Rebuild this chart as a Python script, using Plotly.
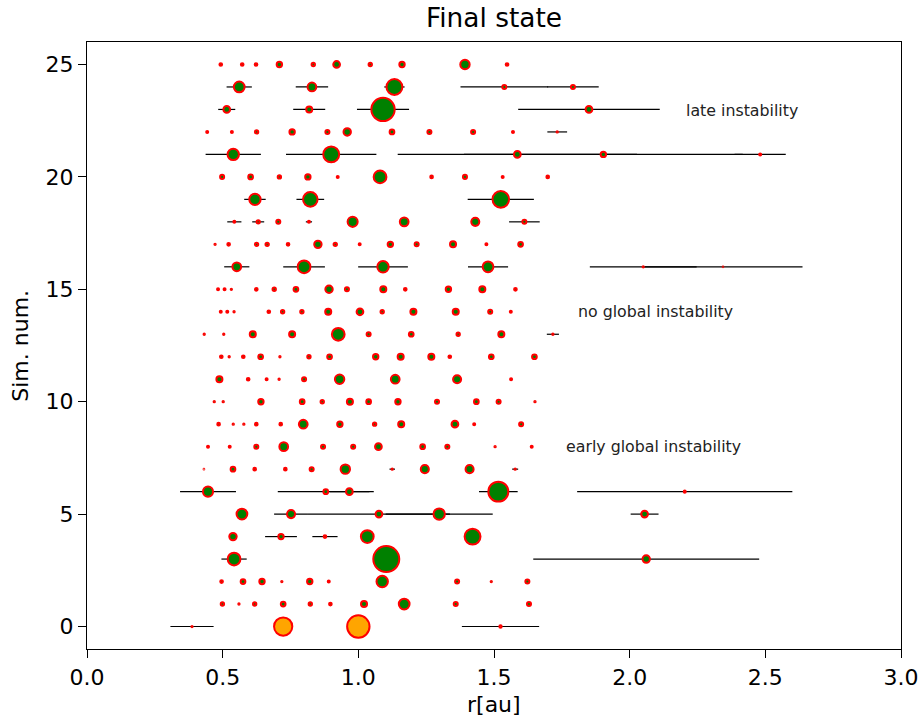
import plotly.graph_objects as go

# Final orbits of every simulation (row 0 is the present-day inner Solar System).
# Semi-major axes in au, one list per simulation.
SEMI_MAJOR = [
    [0.387, 0.723, 1.000, 1.524],
    [0.499, 0.560, 0.618, 0.723, 0.823, 0.897, 1.021, 1.169, 1.359, 1.629],
    [0.496, 0.575, 0.645, 0.718, 0.821, 0.891, 1.088, 1.364, 1.490, 1.623],
    [0.542, 1.103, 2.061],
    [0.538, 0.715, 0.877, 1.033, 1.421],
    [0.571, 0.752, 1.076, 1.298, 2.055],
    [0.446, 0.880, 0.967, 1.516, 2.203],
    [0.431, 0.538, 0.618, 0.731, 0.828, 0.952, 1.125, 1.245, 1.410, 1.578],
    [0.446, 0.526, 0.624, 0.725, 0.870, 0.981, 1.074, 1.237, 1.328, 1.504, 1.639],
    [0.485, 0.539, 0.578, 0.624, 0.714, 0.797, 0.932, 1.060, 1.158, 1.356, 1.427, 1.600],
    [0.469, 0.502, 0.641, 0.793, 0.867, 0.969, 1.038, 1.146, 1.290, 1.435, 1.517, 1.651],
    [0.488, 0.594, 0.662, 0.708, 0.800, 0.931, 1.136, 1.364, 1.563],
    [0.495, 0.524, 0.576, 0.640, 0.711, 0.818, 0.894, 1.064, 1.156, 1.269, 1.337, 1.490, 1.649],
    [0.432, 0.504, 0.611, 0.756, 0.926, 1.038, 1.195, 1.368, 1.527, 1.717],
    [0.493, 0.517, 0.542, 0.670, 0.721, 0.792, 0.889, 1.006, 1.088, 1.203, 1.359, 1.486, 1.562],
    [0.483, 0.507, 0.532, 0.624, 0.690, 0.770, 0.892, 0.958, 1.092, 1.173, 1.332, 1.457, 1.579],
    [0.552, 0.800, 1.091, 1.478, 2.050, 2.344],
    [0.472, 0.522, 0.625, 0.664, 0.741, 0.851, 0.915, 1.005, 1.118, 1.215, 1.349, 1.472, 1.598],
    [0.543, 0.631, 0.705, 0.818, 0.979, 1.169, 1.431, 1.612],
    [0.619, 0.823, 1.525],
    [0.498, 0.603, 0.709, 0.814, 0.924, 1.080, 1.270, 1.393, 1.532, 1.698],
    [0.539, 0.900, 1.586, 1.903, 2.481],
    [0.443, 0.534, 0.625, 0.756, 0.886, 0.959, 1.124, 1.262, 1.423, 1.570, 1.733],
    [0.515, 0.819, 1.091, 1.850],
    [0.561, 0.829, 1.133, 1.538, 1.791],
    [0.493, 0.572, 0.623, 0.709, 0.834, 0.920, 1.044, 1.161, 1.393, 1.548],
]

# Planet masses in Earth masses.
MASS = [
    [0.055, 0.815, 1.000, 0.107],
    [0.15, 0.06, 0.15, 0.21, 0.15, 0.12, 0.27, 0.48, 0.18, 0.18],
    [0.12, 0.21, 0.24, 0.06, 0.24, 0.09, 0.51, 0.18, 0.06, 0.18],
    [0.57, 1.16, 0.33],
    [0.33, 0.24, 0.12, 0.57, 0.71],
    [0.48, 0.36, 0.30, 0.51, 0.30],
    [0.45, 0.21, 0.30, 0.89, 0.09],
    [0.03, 0.21, 0.12, 0.12, 0.18, 0.42, 0.06, 0.36, 0.36, 0.06],
    [0.09, 0.09, 0.18, 0.39, 0.18, 0.18, 0.30, 0.21, 0.18, 0.06, 0.09],
    [0.12, 0.06, 0.06, 0.12, 0.12, 0.39, 0.24, 0.15, 0.27, 0.30, 0.09, 0.18],
    [0.06, 0.06, 0.24, 0.21, 0.15, 0.27, 0.21, 0.24, 0.18, 0.21, 0.18, 0.06],
    [0.27, 0.12, 0.09, 0.06, 0.18, 0.42, 0.39, 0.36, 0.09],
    [0.12, 0.06, 0.12, 0.21, 0.06, 0.15, 0.21, 0.24, 0.27, 0.27, 0.12, 0.21, 0.21],
    [0.06, 0.06, 0.27, 0.27, 0.57, 0.18, 0.21, 0.15, 0.27, 0.06],
    [0.09, 0.09, 0.06, 0.12, 0.15, 0.15, 0.27, 0.30, 0.15, 0.27, 0.27, 0.18, 0.09],
    [0.09, 0.09, 0.06, 0.12, 0.15, 0.21, 0.33, 0.18, 0.27, 0.12, 0.24, 0.27, 0.12],
    [0.39, 0.57, 0.51, 0.48, 0.06, 0.03],
    [0.06, 0.12, 0.15, 0.15, 0.12, 0.33, 0.15, 0.09, 0.24, 0.18, 0.27, 0.09, 0.21],
    [0.09, 0.15, 0.18, 0.09, 0.45, 0.39, 0.36, 0.18],
    [0.51, 0.65, 0.74],
    [0.18, 0.21, 0.15, 0.24, 0.09, 0.57, 0.12, 0.18, 0.09, 0.12],
    [0.51, 0.71, 0.30, 0.24, 0.09],
    [0.09, 0.09, 0.15, 0.24, 0.18, 0.33, 0.21, 0.18, 0.18, 0.09, 0.06],
    [0.30, 0.27, 1.04, 0.30],
    [0.48, 0.39, 0.71, 0.18, 0.18],
    [0.12, 0.12, 0.12, 0.24, 0.15, 0.30, 0.15, 0.24, 0.42, 0.12],
]

# Orbital eccentricities; the bars span perihelion a(1-e) to aphelion a(1+e).
ECC = [
    [0.2056, 0.0068, 0.0167, 0.0934],
    [0, 0, 0, 0, 0, 0, 0, 0, 0, 0],
    [0, 0, 0, 0, 0, 0, 0, 0, 0, 0],
    [0.086, 0, 0.202],
    [0, 0.082, 0.053, 0, 0],
    [0, 0.083, 0.243, 0.152, 0.025],
    [0.231, 0.201, 0.076, 0.047, 0.180],
    [0, 0, 0, 0, 0, 0, 0.009, 0, 0, 0.007],
    [0, 0, 0, 0, 0, 0, 0, 0, 0, 0, 0],
    [0, 0, 0, 0, 0, 0, 0, 0, 0, 0, 0, 0],
    [0, 0, 0, 0, 0, 0, 0, 0, 0, 0, 0, 0],
    [0, 0, 0, 0, 0, 0, 0, 0, 0],
    [0, 0, 0, 0, 0, 0, 0, 0, 0, 0, 0, 0, 0],
    [0, 0, 0, 0, 0, 0, 0, 0, 0, 0.013],
    [0, 0, 0, 0, 0, 0, 0, 0, 0, 0, 0, 0, 0],
    [0, 0, 0, 0, 0, 0, 0, 0, 0, 0, 0, 0, 0],
    [0.084, 0.096, 0.084, 0.050, 0.096, 0.125],
    [0, 0, 0, 0, 0, 0, 0, 0, 0, 0, 0, 0, 0],
    [0.048, 0.035, 0, 0.014, 0, 0, 0, 0.035],
    [0.064, 0.062, 0.080],
    [0, 0, 0, 0, 0, 0, 0, 0, 0, 0],
    [0.189, 0.185, 0.278, 0.270, 0.038],
    [0, 0, 0, 0, 0, 0, 0, 0, 0, 0, 0.021],
    [0.061, 0.072, 0.088, 0.141],
    [0.083, 0.072, 0.033, 0.105, 0.053],
    [0, 0, 0, 0, 0, 0, 0, 0, 0, 0],
]

X_TICKS = [0.0, 0.5, 1.0, 1.5, 2.0, 2.5, 3.0]
Y_TICKS = [0, 5, 10, 15, 20, 25]

# Regime labels: (text, x in au, simulation row)
REGIME_TEXT = ["late instability", "no global instability", "early global instability"]
REGIME_X = [2.200, 1.804, 1.759]
REGIME_Y = [22.96, 14, 8]

FONT = "DejaVu Sans"
MARKER_DIAMETER_PER_MASS = 22.4  # px per Earth mass

xs, ys, sizes, fills, spans = [], [], [], [], []
for sim, (rs, ms, es) in enumerate(zip(SEMI_MAJOR, MASS, ECC)):
    for a, m, e in zip(rs, ms, es):
        xs.append(a)
        ys.append(sim)
        sizes.append(MARKER_DIAMETER_PER_MASS * m)
        fills.append("#ffa500" if sim == 0 else "#008000")
        spans.append(a * e)

fig = go.Figure()
fig.add_trace(go.Scatter(
    x=xs, y=ys, mode="markers",
    marker=dict(size=sizes, color=fills, opacity=1,
                line=dict(color="#ff0000", width=2)),
    error_x=dict(type="data", array=spans, symmetric=True,
                 color="black", thickness=1.2, width=0),
    hoverinfo="skip", showlegend=False,
))

for txt, x, y in zip(REGIME_TEXT, REGIME_X, REGIME_Y):
    fig.add_annotation(x=x, y=y, xref="x", yref="y", text=txt, showarrow=False,
                       xanchor="left", yanchor="middle",
                       font=dict(family=FONT, size=15.8, color="#222222"))

fig.add_annotation(x=0.5, y=-0.092, xref="paper", yref="paper", text="r[au]",
                   showarrow=False, xanchor="center", yanchor="middle",
                   font=dict(family=FONT, size=22, color="black"))
fig.add_annotation(x=-0.082, y=0.5, xref="paper", yref="paper", text="Sim. num.",
                   showarrow=False, xanchor="center", yanchor="middle", textangle=-90,
                   font=dict(family=FONT, size=22, color="black"))

axis_style = dict(showline=True, mirror=True, linecolor="black", linewidth=1.4,
                  ticks="outside", ticklen=8, tickwidth=1.4, tickcolor="black",
                  showgrid=False, zeroline=False, automargin=False,
                  tickfont=dict(family=FONT, size=22, color="black"))

fig.update_layout(
    width=923, height=725,
    margin=dict(l=87, r=22, t=42, b=76, autoexpand=False),
    paper_bgcolor="white", plot_bgcolor="white",
    title=dict(text="Final state", x=0.5, xref="paper", xanchor="center",
               y=1 - 17.8 / 725, yref="container", yanchor="middle",
               font=dict(family=FONT, size=26.4, color="black")),
    xaxis=dict(range=[0, 3], tickvals=X_TICKS,
               ticktext=[f"{v:.1f}" for v in X_TICKS], **axis_style),
    yaxis=dict(range=[-1, 26], tickvals=Y_TICKS,
               ticktext=[str(v) for v in Y_TICKS], **axis_style),
)

fig.write_html("out.html")
